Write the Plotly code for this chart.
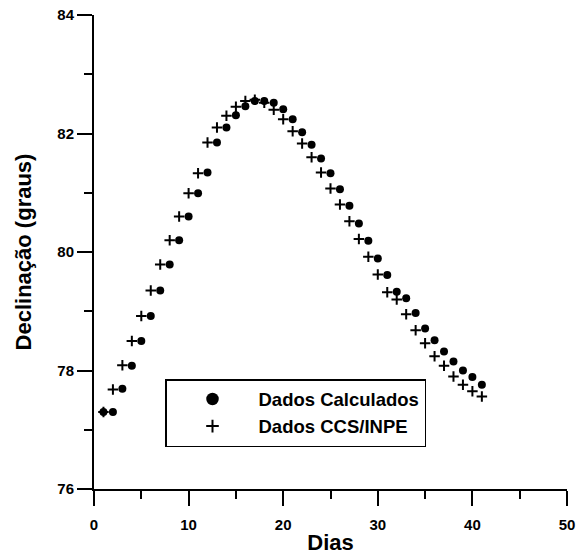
import plotly.graph_objects as go

# Days
dias = list(range(1, 42))

# Dados Calculados (circles)
calculados = [77.30, 77.30, 77.69, 78.08, 78.50, 78.92, 79.35, 79.79, 80.20, 80.60,
              80.99, 81.34, 81.85, 82.10, 82.31, 82.46, 82.55, 82.55, 82.52, 82.41,
              82.24, 82.02, 81.81, 81.58, 81.33, 81.06, 80.78, 80.48, 80.19, 79.89,
              79.61, 79.33, 79.22, 78.97, 78.71, 78.51, 78.32, 78.15, 78.00, 77.89,
              77.76]

# Dados CCS/INPE (pluses)
ccs_inpe = [77.30, 77.68, 78.09, 78.50, 78.92, 79.35, 79.79, 80.20, 80.60, 80.99,
            81.33, 81.85, 82.10, 82.30, 82.45, 82.55, 82.57, 82.52, 82.40, 82.24,
            82.04, 81.83, 81.60, 81.34, 81.07, 80.80, 80.52, 80.22, 79.92, 79.62,
            79.32, 79.20, 78.95, 78.68, 78.46, 78.24, 78.08, 77.90, 77.76, 77.65,
            77.56]

x_ticks = [0, 10, 20, 30, 40, 50]
y_ticks = [76, 78, 80, 82, 84]

FONT = "Liberation Sans, Arial, sans-serif"

fig = go.Figure()
# data traces
fig.add_trace(go.Scatter(
    x=dias, y=calculados, mode="markers", name="Dados Calculados", showlegend=False,
    marker=dict(symbol="circle", size=8, color="black"),
))
fig.add_trace(go.Scatter(
    x=dias, y=ccs_inpe, mode="markers", name="Dados CCS/INPE", showlegend=False,
    marker=dict(symbol="cross-thin", size=7.5, color="black",
                line=dict(width=2, color="black")),
))
# legend entries (larger symbols as in the original legend)
fig.add_trace(go.Scatter(
    x=[None], y=[None], mode="markers", name="Dados Calculados",
    marker=dict(symbol="circle", size=12.5, color="black"),
))
fig.add_trace(go.Scatter(
    x=[None], y=[None], mode="markers", name="Dados CCS/INPE",
    marker=dict(symbol="cross-thin", size=9, color="black",
                line=dict(width=2, color="black")),
))

axis_common = dict(
    showgrid=False, zeroline=False, showline=True, linecolor="black", linewidth=2,
    ticks="outside", tickcolor="black", tickwidth=2, ticklen=15,
    tickfont=dict(family=FONT, size=15, color="black"),
    mirror=False, automargin=False,
)

fig.update_layout(
    width=580, height=556,
    margin=dict(l=94, r=13, t=15, b=67),
    paper_bgcolor="white", plot_bgcolor="white",
    showlegend=True,
    legend=dict(
        x=(165 - 94) / 473, y=(489 - 379) / 474, xanchor="left", yanchor="top",
        bordercolor="black", borderwidth=1.5, bgcolor="white",
        font=dict(family=FONT, size=18.5, color="black", weight="bold"),
        itemsizing="trace", itemwidth=82,
    ),
    xaxis=dict(
        range=[0, 50], tickvals=x_ticks, ticktext=[f"<b>{v}</b>" for v in x_ticks],
        minor=dict(dtick=5, ticks="outside", ticklen=8, tickwidth=2, tickcolor="black"),
        ticklabelstandoff=6,
        title=dict(text="<b>Dias</b>", font=dict(family=FONT, size=22, color="black"),
                   standoff=3),
        **axis_common,
    ),
    yaxis=dict(
        range=[76, 84], tickvals=y_ticks, ticktext=[f"<b>{v}</b>" for v in y_ticks],
        minor=dict(dtick=1, ticks="outside", ticklen=8, tickwidth=2, tickcolor="black"),
        title=dict(text="<b>Declinação (graus)</b>",
                   font=dict(family=FONT, size=22, color="black"),
                   standoff=20),
        **axis_common,
    ),
)

fig.write_html("out.html", config={"displayModeBar": False},
               post_script="document.body.style.margin='0';")
